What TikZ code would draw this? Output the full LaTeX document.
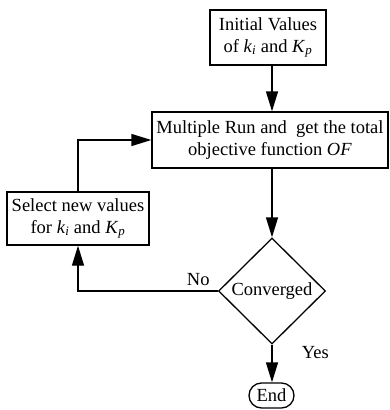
\documentclass[tikz,border=0pt]{standalone}
\usepackage{fontspec}
\setmainfont{Liberation Serif}
\usetikzlibrary{arrows.meta,shapes.geometric,shapes.misc}
\newcommand{\sv}[2]{\textit{#1}\textsubscript{\textit{#2}}}
\tikzset{
  box/.style={draw, rectangle, align=center, inner sep=2pt},
  flow/.style={-{Triangle[length=20pt,width=12pt]}},
}

\begin{document}
\begin{tikzpicture}[x=1pt, y=-1pt, line width=1.3pt,
  font=\fontsize{18.5}{22}\selectfont]

\useasboundingbox (0,0) rectangle (390,410);

\node[box, minimum width=116, minimum height=55] (init) at (268,37.5)
  {Initial Values\\of \sv{k}{i} and \sv{K}{p}};
\node[box, minimum width=236, minimum height=56] (run) at (270,140)
  {Multiple Run and\ \ get the total\\objective function \textit{OF}};
\node[box, minimum width=142, minimum height=53] (sel) at (78,218.5)
  {Select new values\\for \sv{k}{i} and \sv{K}{p}};
\node[draw, diamond, inner sep=0pt, minimum width=107, minimum height=106] (conv) at (272,291)
  {Converged};
\node[draw, rounded rectangle, inner sep=2pt, minimum width=49, minimum height=25] (end) at (271.5,395.5)
  {End};

\draw[flow] (init.south -| conv.north) -- (run.north -| conv.north);
\draw[flow] (run.south -| conv.north) -- (conv.north);
\draw[flow] (conv.south) -- (end.north -| conv.south)
  node[pos=0.2, anchor=west, xshift=26pt] {Yes};
\draw[flow] (conv.west) -| (sel.south)
  node[pos=0.07, above, yshift=1pt] {No};
\draw[flow] (sel.north) |- (run.west);

\end{tikzpicture}
\end{document}
